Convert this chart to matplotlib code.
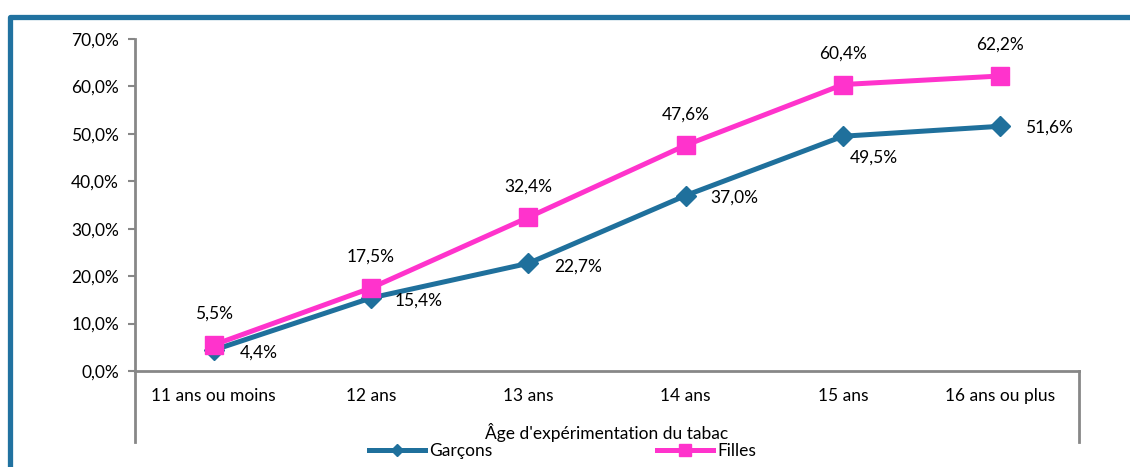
import matplotlib
matplotlib.use("Agg")
import matplotlib.pyplot as plt
from matplotlib.lines import Line2D

# Data
categories = ["11 ans ou moins", "12 ans", "13 ans", "14 ans", "15 ans", "16 ans ou plus"]
garcons = [4.4, 15.4, 22.7, 37.0, 49.5, 51.6]
filles = [5.5, 17.5, 32.4, 47.6, 60.4, 62.2]
y_ticks = [0, 10, 20, 30, 40, 50, 60, 70]
x_title = "Âge d'expérimentation du tabac"

BLUE = "#1F709C"
PINK = "#FF33CC"
GREY = "#878787"
FRAME = "#2172A0"

plt.rcParams["font.family"] = ["Lato", "DejaVu Sans"]
FS = 12.5

W, H = 1130, 467
fig = plt.figure(figsize=(W / 100, H / 100), dpi=100)


def fx(px):
    return px / W


def fy(py):
    return 1 - py / H


# Outer frame (top and left edges)
fig.add_artist(Line2D([fx(9.5), fx(9.5), fx(1140)], [fy(480), fy(17), fy(17)],
                      transform=fig.transFigure, color=FRAME, lw=3.8,
                      solid_joinstyle="round", solid_capstyle="butt"))

ax = fig.add_axes([fx(135), fy(371), fx(1079) - fx(135), fy(39) - fy(371)])
x = list(range(len(categories)))

h_g, = ax.plot(x, garcons, color=BLUE, lw=3.6, marker="D", markersize=10.5,
               markeredgecolor=BLUE, markerfacecolor=BLUE, label="Garçons", zorder=3)
h_f, = ax.plot(x, filles, color=PINK, lw=3.6, marker="s", markersize=13.5,
               markeredgecolor=PINK, markerfacecolor=PINK, label="Filles", zorder=4)

ax.set_xlim(-0.5, len(categories) - 0.5)
ax.set_ylim(0, 70)
ax.set_yticks(y_ticks)
ax.set_yticklabels([f"{v:.1f}%".replace(".", ",") for v in y_ticks], fontsize=FS)
ax.set_xticks(x)
ax.set_xticklabels(categories, fontsize=FS)
ax.tick_params(axis="x", length=0, pad=12)
ax.tick_params(axis="y", length=5, width=1.5, color=GREY, pad=6.5)

for side in ("top", "right"):
    ax.spines[side].set_visible(False)
for side in ("left", "bottom"):
    ax.spines[side].set_color(GREY)
    ax.spines[side].set_linewidth(2)

# Category axis end lines extending below the axis
ext = -(442 - 371) / (371 - 39)
ax.plot([0, 0], [0, ext], transform=ax.transAxes, color=GREY, lw=2, clip_on=False)
ax.plot([1, 1], [0, ext], transform=ax.transAxes, color=GREY, lw=2, clip_on=False)

# Value labels
k = 0.72  # px -> points
garcons_offsets = [(26, -2), (24, -3), (26, -3), (25, -2), (7, -21), (25, -1)]
for xi, v, (dx, dy) in zip(x, garcons, garcons_offsets):
    ax.annotate(f"{v:.1f}%".replace(".", ","), (xi, v), xytext=(dx * k, dy * k),
                textcoords="offset points", ha="left", va="center", fontsize=FS)
for xi, v in zip(x, filles):
    ax.annotate(f"{v:.1f}%".replace(".", ","), (xi, v), xytext=(0, 31 * k),
                textcoords="offset points", ha="center", va="center", fontsize=FS)

fig.text(fx(607), fy(432), x_title, ha="center", va="center", fontsize=FS)

# Legend entries, each placed on its own
for handle, left in ((h_g, 369), (h_f, 657)):
    fig.legend(handles=[handle], loc="center left", bbox_to_anchor=(fx(left), fy(451)),
               frameon=False, fontsize=FS, handlelength=3.2, handletextpad=0.25,
               markerscale=0.6, borderpad=0, borderaxespad=0)

fig.savefig("out.png", dpi=100)
